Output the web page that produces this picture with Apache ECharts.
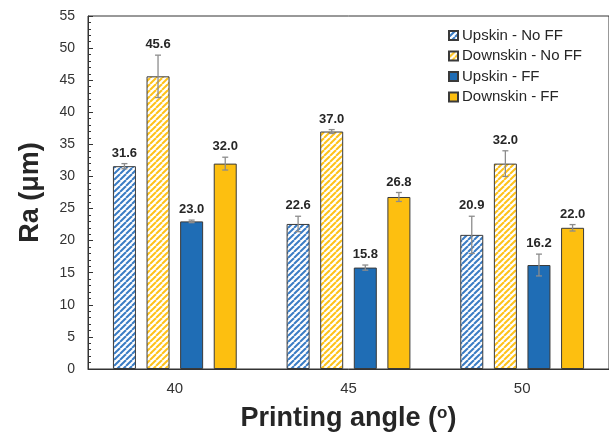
<!DOCTYPE html>
<html>
<head>
<meta charset="utf-8">
<script src="https://cdn.jsdelivr.net/npm/echarts@6/dist/echarts.min.js"></script>
<style>
  html, body { margin: 0; padding: 0; background: #fff; }
  #chart { width: 609px; height: 437px; }
</style>
</head>
<body>
<div id="chart"></div>
<script>
var categories = ['40', '45', '50'];

var upNoFF = [31.6, 22.6, 20.9];
var upNoFFErr = [0.4, 1.2, 2.9];
var downNoFF = [45.6, 37.0, 32.0];
var downNoFFErr = [3.3, 0.3, 2.0];
var upFF = [23.0, 15.8, 16.2];
var upFFErr = [0.2, 0.4, 1.7];
var downFF = [32.0, 26.8, 22.0];
var downFFErr = [1.0, 0.7, 0.5];

var yTicks = { min: 0, max: 55, interval: 5 };

var BLUE = '#1f6db5';
var YELLOW = '#fdbf10';
var FONT = 'Liberation Sans';
var BAR_W = 23;
var GAP = 10.6;

// diagonal hatch fill
function hatch(color) {
  var c = document.createElement('canvas');
  c.width = c.height = 6;
  var g = c.getContext('2d');
  g.fillStyle = '#fff';
  g.fillRect(0, 0, 6, 6);
  g.strokeStyle = color;
  g.lineWidth = 2;
  for (var k = -6; k <= 6; k += 6) {
    g.beginPath();
    g.moveTo(k, 6);
    g.lineTo(k + 6, 0);
    g.stroke();
  }
  return c;
}

function offsetOf(i) {
  var total = 4 * BAR_W + 3 * GAP;
  return -total / 2 + BAR_W / 2 + i * (BAR_W + GAP);
}

function errData(vals, errs) {
  return vals.map(function (v, i) { return [i, v, errs[i]]; });
}

function errSeries(vals, errs, idx) {
  var off = offsetOf(idx);
  return {
    type: 'custom',
    z: 5,
    data: errData(vals, errs),
    encode: { x: 0, y: 1 },
    renderItem: function (params, api) {
      var x = api.value(0), v = api.value(1), e = api.value(2);
      var top = api.coord([x, v + e]);
      var bot = api.coord([x, v - e]);
      var cx = top[0] + off;
      var st = { stroke: '#8c8c8c', lineWidth: 1.3 };
      return {
        type: 'group',
        children: [
          { type: 'line', shape: { x1: cx, y1: top[1], x2: cx, y2: bot[1] }, style: st },
          { type: 'line', shape: { x1: cx - 3, y1: top[1], x2: cx + 3, y2: top[1] }, style: st },
          { type: 'line', shape: { x1: cx - 3, y1: bot[1], x2: cx + 3, y2: bot[1] }, style: st },
          {
            type: 'text',
            style: {
              x: cx, y: top[1] - 4,
              text: v.toFixed(1),
              align: 'center', verticalAlign: 'bottom',
              font: 'bold 13px "' + FONT + '"',
              fill: '#262626'
            }
          }
        ]
      };
    }
  };
}

function barSeries(name, vals, color) {
  return {
    name: name,
    type: 'bar',
    data: vals,
    barWidth: BAR_W,
    barGap: (GAP / BAR_W * 100) + '%',
    itemStyle: { color: color, borderColor: '#3a3a3a', borderWidth: 1 }
  };
}

var chart = echarts.init(document.getElementById('chart'), null, { renderer: 'canvas' });

var option = {
  animation: false,
  textStyle: { fontFamily: FONT },
  grid: {
    left: 88, top: 16, width: 523, bottom: 65,
    show: true, borderColor: '#333', borderWidth: 1
  },
  legend: {
    data: ['Upskin - No FF', 'Downskin - No FF', 'Upskin - FF', 'Downskin - FF'],
    orient: 'vertical',
    left: 443, top: 23,
    itemWidth: 9, itemHeight: 9,
    itemGap: 5.5,
    icon: 'rect',
    textStyle: { fontSize: 15, color: '#262626', fontFamily: FONT, padding: [0, 0, 0, -1] }
  },
  xAxis: {
    type: 'category',
    data: categories,
    name: 'Printing angle ({s|o})',
    nameLocation: 'middle',
    nameGap: 36,
    nameTextStyle: {
      fontSize: 27, fontWeight: 'bold', color: '#262626', fontFamily: FONT,
      rich: { s: { fontSize: 17, fontWeight: 'bold', color: '#262626', verticalAlign: 'top', padding: [0, 0, 10, 0] } }
    },
    axisLine: { lineStyle: { color: '#333', width: 1 } },
    axisTick: { show: false },
    axisLabel: { fontSize: 15, color: '#333', margin: 12 }
  },
  yAxis: {
    type: 'value',
    min: yTicks.min, max: yTicks.max, interval: yTicks.interval,
    name: 'Ra (μm)',
    nameLocation: 'middle',
    nameGap: 44,
    nameTextStyle: { fontSize: 27, fontWeight: 'bold', color: '#262626', fontFamily: FONT },
    axisLine: { show: true, lineStyle: { color: '#333', width: 1 } },
    axisTick: { show: true, inside: true, length: 5, lineStyle: { color: '#333' } },
    minorTick: { show: true, splitNumber: 5, length: 3, lineStyle: { color: '#333' } },
    splitLine: { show: false },
    axisLabel: { fontSize: 14, color: '#333', margin: 13 }
  },
  series: [
    barSeries('Upskin - No FF', upNoFF, { image: hatch('#3a7cc4'), repeat: 'repeat' }),
    barSeries('Downskin - No FF', downNoFF, { image: hatch('#fec21a'), repeat: 'repeat' }),
    barSeries('Upskin - FF', upFF, BLUE),
    barSeries('Downskin - FF', downFF, YELLOW),
    errSeries(upNoFF, upNoFFErr, 0),
    errSeries(downNoFF, downNoFFErr, 1),
    errSeries(upFF, upFFErr, 2),
    errSeries(downFF, downFFErr, 3)
  ]
};

chart.setOption(option);
</script>
</body>
</html>
